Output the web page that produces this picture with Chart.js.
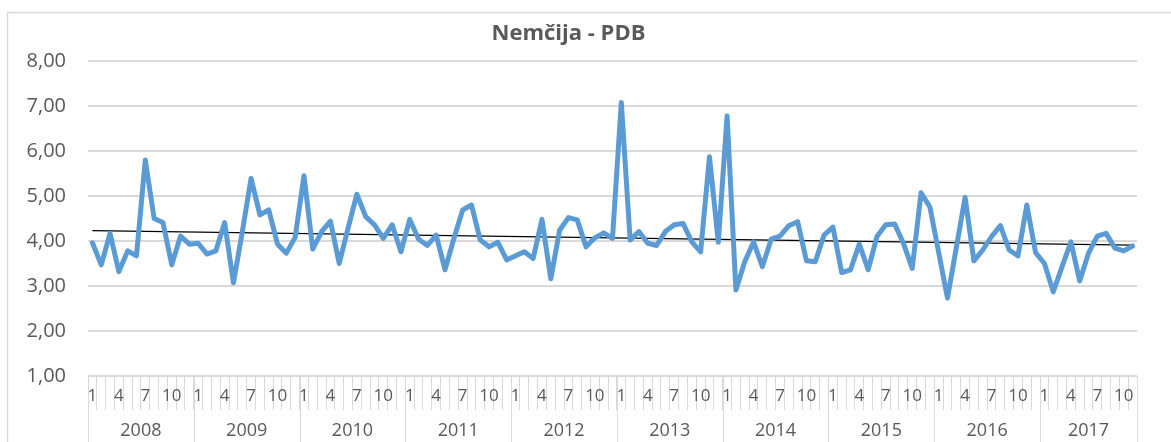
<!DOCTYPE html>
<html>
<head>
<meta charset="utf-8">
<title>Nemčija - PDB</title>
<script src="https://cdn.jsdelivr.net/npm/chart.js@4"></script>
<style>
html, body { margin: 0; padding: 0; background: #fff; }
</style>
</head>
<body>
<canvas id="myChart" width="1171" height="442"></canvas>
<script>
// categories
const years = [2008, 2009, 2010, 2011, 2012, 2013, 2014, 2015, 2016, 2017];
const monthsPerYear = [12, 12, 12, 12, 12, 12, 12, 12, 12, 11];
const shownMonths = [1, 4, 7, 10];

// PDB values per year
const pdb2008 = [3.96, 3.47, 4.17, 3.32, 3.78, 3.67, 5.80, 4.50, 4.41, 3.47, 4.11, 3.93];
const pdb2009 = [3.95, 3.71, 3.78, 4.41, 3.07, 4.20, 5.39, 4.58, 4.69, 3.93, 3.73, 4.08];
const pdb2010 = [5.45, 3.82, 4.21, 4.44, 3.50, 4.28, 5.04, 4.54, 4.36, 4.06, 4.36, 3.76];
const pdb2011 = [4.48, 4.04, 3.90, 4.13, 3.36, 4.05, 4.69, 4.80, 4.02, 3.87, 3.97, 3.58];
const pdb2012 = [3.67, 3.76, 3.61, 4.48, 3.16, 4.24, 4.52, 4.47, 3.87, 4.07, 4.18, 4.06];
const pdb2013 = [7.08, 4.02, 4.21, 3.95, 3.90, 4.21, 4.36, 4.39, 3.98, 3.76, 5.87, 3.97];
const pdb2014 = [6.78, 2.91, 3.54, 3.98, 3.43, 4.04, 4.11, 4.34, 4.43, 3.56, 3.54, 4.13];
const pdb2015 = [4.31, 3.30, 3.36, 3.93, 3.36, 4.10, 4.36, 4.38, 3.95, 3.39, 5.07, 4.76];
const pdb2016 = [3.75, 2.73, 3.85, 4.97, 3.56, 3.80, 4.10, 4.34, 3.80, 3.67, 4.80, 3.74];
const pdb2017 = [3.50, 2.87, 3.43, 3.98, 3.11, 3.73, 4.11, 4.17, 3.84, 3.78, 3.89];

// linear trend end points
const trendStart = 4.23;
const trendEnd = 3.91;

// y axis
const yMin = 1;
const yMax = 8;
const yStep = 1;

const pdb = [].concat(pdb2008, pdb2009, pdb2010, pdb2011, pdb2012,
    pdb2013, pdb2014, pdb2015, pdb2016, pdb2017);

const labels = [];
monthsPerYear.forEach(n => {
    for (let m = 1; m <= n; m++) labels.push(String(m));
});

const trend = pdb.map((v, i) => i === 0 ? trendStart : (i === pdb.length - 1 ? trendEnd : null));

const txt = '#595959';
const grid = '#d9d9d9';
const font = "'Open Sans', 'Liberation Sans', sans-serif";

// outer frame of the chart
const framePlugin = {
    id: 'frame',
    beforeDraw(chart) {
        const ctx = chart.ctx;
        ctx.save();
        ctx.fillStyle = '#fff';
        ctx.fillRect(0, 0, chart.width, chart.height);
        ctx.strokeStyle = grid;
        ctx.lineWidth = 1.5;
        ctx.beginPath();
        ctx.moveTo(7.5, chart.height + 2);
        ctx.lineTo(7.5, 12.5);
        ctx.lineTo(chart.width + 2, 12.5);
        ctx.stroke();
        ctx.restore();
    }
};

// second row of the x axis: years
const yearPlugin = {
    id: 'years',
    afterDraw(chart) {
        const x = chart.scales.x;
        const ctx = chart.ctx;
        const half = (x.getPixelForValue(1) - x.getPixelForValue(0)) / 2;
        ctx.save();
        ctx.strokeStyle = grid;
        ctx.lineWidth = 1;
        ctx.fillStyle = txt;
        ctx.font = "18px " + font;
        ctx.textAlign = 'center';
        ctx.textBaseline = 'middle';
        let idx = 0;
        let right = 0;
        years.forEach((yr, k) => {
            const n = monthsPerYear[k];
            const left = x.getPixelForValue(idx) - half;
            right = x.getPixelForValue(idx + n - 1) + half;
            ctx.beginPath();
            ctx.moveTo(Math.round(left) + 0.5, x.top);
            ctx.lineTo(Math.round(left) + 0.5, chart.height);
            ctx.stroke();
            ctx.fillText(String(yr), (left + right) / 2, 431);
            idx += n;
        });
        ctx.beginPath();
        ctx.moveTo(Math.round(right) + 0.5, x.top);
        ctx.lineTo(Math.round(right) + 0.5, chart.height);
        ctx.stroke();
        ctx.restore();
    }
};

const data = {
    labels: labels,
    datasets: [{
        label: 'PDB',
        data: pdb,
        borderColor: '#5b9bd5',
        borderWidth: 5,
        pointRadius: 0,
        tension: 0,
        borderJoinStyle: 'round',
        borderCapStyle: 'round'
    },
    {
        label: 'Trend',
        data: trend,
        borderColor: '#000',
        borderWidth: 1.2,
        pointRadius: 0,
        spanGaps: true
    }]
};

const config = {
    type: 'line',
    data: data,
    options: {
        responsive: false,
        animation: false,
        layout: {
            padding: { left: 0, right: 34, top: 0, bottom: 0 }
        },
        plugins: {
            legend: { display: false },
            tooltip: { enabled: false },
            title: {
                display: true,
                text: 'Nemčija - PDB',
                color: txt,
                font: { family: font, size: 22, weight: 'bold', lineHeight: 1.2 },
                padding: { top: 21, bottom: 13.6 }
            }
        },
        scales: {
            x: {
                offset: true,
                afterFit(scale) { scale.height = 66; },
                border: { color: grid, width: 1 },
                grid: {
                    offset: true,
                    drawOnChartArea: false,
                    color: grid,
                    tickLength: 34,
                    lineWidth: 1
                },
                ticks: {
                    autoSkip: false,
                    maxRotation: 0,
                    minRotation: 0,
                    padding: -24,
                    color: txt,
                    font: { family: font, size: 17 },
                    callback: (v, i) => shownMonths.includes(Number(labels[i])) ? labels[i] : ''
                }
            },
            y: {
                min: yMin,
                max: yMax,
                afterFit(scale) { scale.width = 88; },
                border: { display: false },
                grid: { color: grid, lineWidth: 2, drawTicks: false },
                ticks: {
                    stepSize: yStep,
                    padding: 22,
                    color: txt,
                    font: { family: font, size: 20 },
                    callback: v => v.toFixed(2).replace('.', ',')
                }
            }
        }
    },
    plugins: [framePlugin, yearPlugin]
};

const myChart = new Chart(document.getElementById('myChart'), config);
</script>
</body>
</html>
